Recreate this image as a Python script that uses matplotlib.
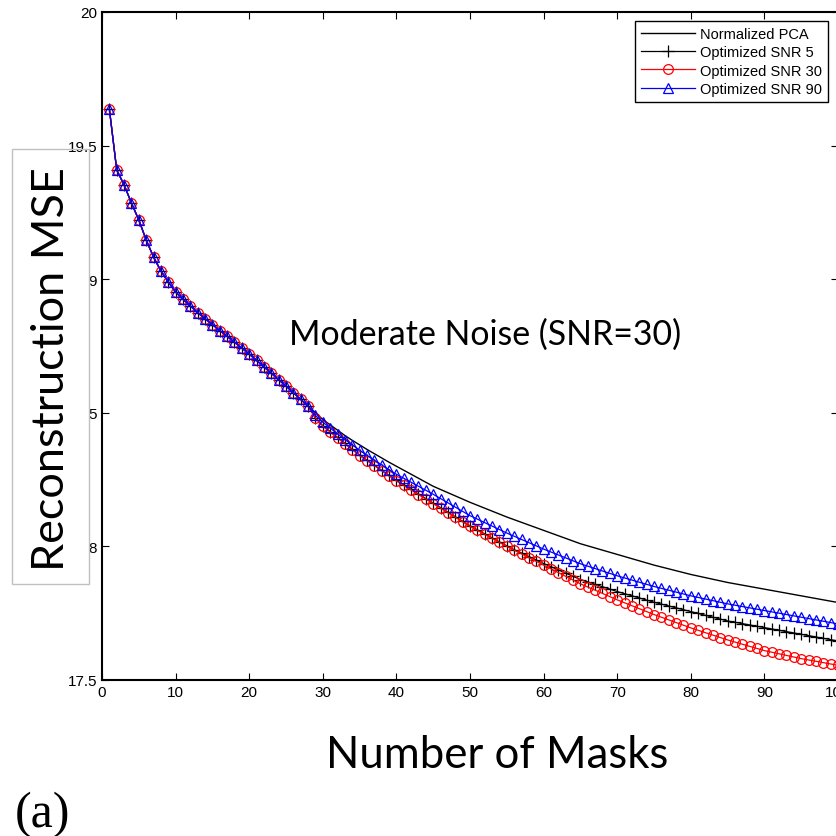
import numpy as np
import matplotlib
matplotlib.use('Agg')
import matplotlib.pyplot as plt
from matplotlib.patches import Rectangle

# numero de mascaras
masks = np.arange(1, 101)

# tramo comun (mascaras 1..28), las cuatro curvas coinciden
common = [19.637, 19.409, 19.353, 19.285, 19.222, 19.147, 19.083, 19.031, 18.990, 18.952,
          18.925, 18.900, 18.875, 18.852, 18.830, 18.808, 18.786, 18.764, 18.742, 18.720,
          18.696, 18.672, 18.648, 18.624, 18.600, 18.575, 18.550, 18.525]

# mascaras 29..100
pca_tail = [18.50, 18.475, 18.455, 18.435, 18.415, 18.397, 18.38, 18.363, 18.347, 18.331,
            18.315, 18.30, 18.285, 18.27, 18.255, 18.24, 18.225, 18.213, 18.201, 18.189,
            18.177, 18.165, 18.154, 18.143, 18.132, 18.121, 18.11, 18.10, 18.09, 18.08,
            18.07, 18.06, 18.05, 18.04, 18.03, 18.02, 18.01, 18.002, 17.994, 17.986,
            17.978, 17.97, 17.962, 17.954, 17.946, 17.938, 17.93, 17.923, 17.916, 17.909,
            17.902, 17.895, 17.889, 17.883, 17.877, 17.871, 17.865, 17.86, 17.855, 17.85,
            17.845, 17.84, 17.835, 17.83, 17.825, 17.82, 17.815, 17.81, 17.805, 17.80,
            17.795, 17.79]

snr5_tail = [18.48, 18.452, 18.43, 18.408, 18.386, 18.364, 18.342, 18.323, 18.304, 18.285,
             18.266, 18.247, 18.23, 18.213, 18.196, 18.179, 18.162, 18.145, 18.128, 18.111,
             18.094, 18.077, 18.062, 18.047, 18.032, 18.017, 18.002, 17.988, 17.975, 17.962,
             17.949, 17.936, 17.924, 17.912, 17.90, 17.888, 17.876, 17.867, 17.858, 17.849,
             17.84, 17.831, 17.823, 17.815, 17.807, 17.799, 17.791, 17.784, 17.777, 17.77,
             17.763, 17.756, 17.749, 17.742, 17.735, 17.728, 17.721, 17.716, 17.711, 17.706,
             17.701, 17.696, 17.691, 17.686, 17.681, 17.676, 17.671, 17.666, 17.661, 17.656,
             17.651, 17.646]

snr30_tail = [18.48, 18.45, 18.428, 18.406, 18.384, 18.362, 18.34, 18.321, 18.302, 18.283,
              18.264, 18.245, 18.228, 18.211, 18.194, 18.177, 18.16, 18.143, 18.126, 18.109,
              18.092, 18.075, 18.06, 18.045, 18.03, 18.015, 18.0, 17.986, 17.972, 17.958,
              17.944, 17.93, 17.916, 17.902, 17.888, 17.874, 17.86, 17.848, 17.836, 17.824,
              17.812, 17.80, 17.789, 17.778, 17.767, 17.756, 17.745, 17.735, 17.725, 17.715,
              17.705, 17.695, 17.686, 17.677, 17.668, 17.659, 17.65, 17.642, 17.634, 17.626,
              17.618, 17.61, 17.604, 17.598, 17.592, 17.586, 17.58, 17.575, 17.57, 17.565,
              17.56, 17.555]

snr90_tail = [18.49, 18.465, 18.443, 18.421, 18.40, 18.38, 18.36, 18.341, 18.323, 18.305,
              18.287, 18.27, 18.255, 18.24, 18.225, 18.21, 18.195, 18.179, 18.163, 18.147,
              18.131, 18.115, 18.102, 18.089, 18.076, 18.063, 18.05, 18.038, 18.026, 18.014,
              18.002, 17.99, 17.979, 17.968, 17.957, 17.946, 17.935, 17.926, 17.917, 17.908,
              17.899, 17.89, 17.882, 17.874, 17.866, 17.858, 17.85, 17.843, 17.836, 17.829,
              17.822, 17.815, 17.809, 17.803, 17.797, 17.791, 17.785, 17.78, 17.775, 17.77,
              17.765, 17.76, 17.755, 17.75, 17.745, 17.74, 17.735, 17.73, 17.725, 17.72,
              17.715, 17.71]

pca = common + pca_tail
snr5 = common + snr5_tail
snr30 = common + snr30_tail
snr90 = common + snr90_tail

yticks = [17.5, 18, 18.5, 19, 19.5, 20]
yticklabels = ['17.5', '8', '5', '9', '19.5', '20']
xticks = list(range(0, 101, 10))

W, H = 836, 837
fig = plt.figure(figsize=(W / 100, H / 100), dpi=100)

# ejes en pixeles: izquierda 102, derecha 838, arriba 13, abajo 681
ax = fig.add_axes([102 / W, 1 - 681 / H, (838 - 102) / W, (681 - 13) / H])

ax.plot(masks, pca, color='black', lw=1.0, label='Normalized PCA')
ax.plot(masks, snr5, color='black', lw=0.9, marker='+', ms=8, mew=0.9, label='Optimized SNR 5')
ax.plot(masks, snr30, color='red', lw=0.9, marker='o', ms=7, mew=0.9, mfc='none', label='Optimized SNR 30')
ax.plot(masks, snr90, color='blue', lw=0.9, marker='^', ms=7, mew=0.9, mfc='none', label='Optimized SNR 90')

ax.set_xlim(0, 100)
ax.set_ylim(17.5, 20)
ax.set_xticks(xticks)
ax.set_yticks(yticks)
ax.set_yticklabels(yticklabels)
for lab in ax.get_xticklabels() + ax.get_yticklabels():
    lab.set_fontfamily('Liberation Sans')
    lab.set_fontsize(11)
ax.tick_params(direction='in', length=5, width=0.8, top=True, right=True, pad=3.5)
for s in ax.spines.values():
    s.set_linewidth(1.5)

leg = ax.legend(loc='upper right', bbox_to_anchor=((828 - 102) / (838 - 102), (681 - 22) / 668),
                borderaxespad=0, fancybox=False, framealpha=1, edgecolor='black',
                prop={'family': 'Liberation Sans', 'size': 10.5}, handlelength=3.7,
                handletextpad=0.35, labelspacing=0.3, borderpad=0.4)
leg.get_frame().set_linewidth(1.0)

# textos con fuente tipo Calibri
sans = ['Lato', 'DejaVu Sans']
ax.text((289 - 102) / 736, (681 - 345) / 668, 'Moderate Noise (SNR=30)', transform=ax.transAxes,
        family=sans, fontsize=24.4, ha='left', va='baseline')
fig.text(497 / W, 1 - 768 / H, 'Number of Masks', family=sans, fontsize=31.5, ha='center', va='baseline')

# caja de la etiqueta del eje y
fig.patches.append(Rectangle((12 / W, 1 - 585 / H), 77 / W, 435 / H, transform=fig.transFigure,
                             fill=False, edgecolor='#c0c0c0', lw=1.0))
fig.text(52 / W, 1 - 369 / H, 'Reconstruction MSE', family=sans, fontsize=32.4, rotation=90,
         ha='center', va='center')

fig.text(15 / W, 1 - 827 / H, '(a)', family='Liberation Serif', fontsize=36, ha='left', va='baseline')

fig.savefig('out.png', dpi=100)
